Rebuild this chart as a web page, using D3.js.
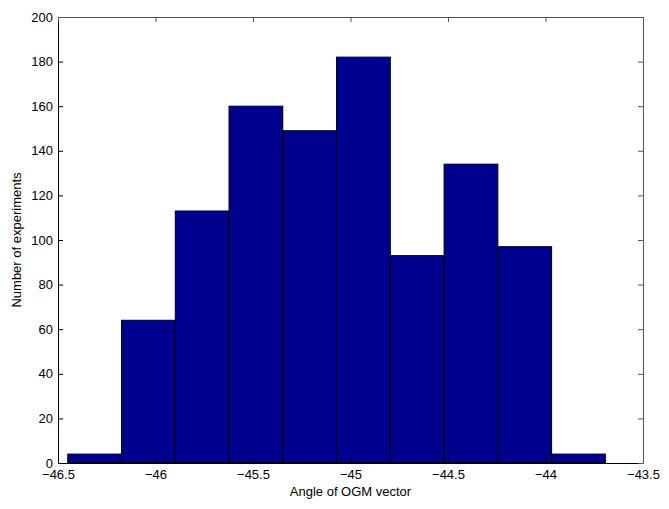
<!DOCTYPE html>
<html>
<head>
<meta charset="utf-8">
<script src="https://cdn.jsdelivr.net/npm/d3@7"></script>
<style>
  body { margin: 0; background: #fff; }
  text { font-family: "Liberation Sans", Arial, sans-serif; font-size: 13px; fill: #000; }
</style>
</head>
<body>
<svg id="chart"></svg>
<script>
// histogram bins (left edge of first bin, bin width) and counts
const binStart = -46.45;
const binWidth = 0.2757;
const counts = [4, 64, 113, 160, 149, 182, 93, 134, 97, 4];
const xTicks = [-46.5, -46, -45.5, -45, -44.5, -44, -43.5];
const yTicks = [0, 20, 40, 60, 80, 100, 120, 140, 160, 180, 200];

var margin = {top: 17, right: 26, bottom: 46, left: 58},
    width = 669 - margin.left - margin.right,
    height = 509 - margin.top - margin.bottom;

const svg = d3.select("#chart")
    .attr("width", 669)
    .attr("height", 509);

const g = svg.append("g")
    .attr("transform", "translate(" + margin.left + "," + margin.top + ")");

var x = d3.scaleLinear().domain([-46.5, -43.5]).range([0, width]);
var y = d3.scaleLinear().domain([0, 200]).range([height, 0]);

// bars
g.append("g")
    .selectAll("rect")
    .data(counts)
    .enter()
    .append("rect")
    .attr("x", (d, i) => x(binStart + i * binWidth))
    .attr("width", (d, i) => x(binStart + (i + 1) * binWidth) - x(binStart + i * binWidth))
    .attr("y", d => y(d))
    .attr("height", d => height - y(d))
    .style("fill", "#00008f")
    .style("stroke", "#000")
    .style("stroke-width", 1);

// axes, ticks pointing inward like matlab
const xAxis = g.append("g")
    .attr("transform", "translate(0," + height + ")")
    .call(d3.axisBottom(x).tickValues(xTicks).tickSizeInner(-5).tickSizeOuter(0).tickPadding(7).tickFormat(d3.format("")));
const yAxis = g.append("g")
    .call(d3.axisLeft(y).tickValues(yTicks).tickSizeInner(-5).tickSizeOuter(0).tickPadding(5));
const xTop = g.append("g")
    .call(d3.axisTop(x).tickValues(xTicks).tickSizeInner(-5).tickSizeOuter(0).tickFormat(""));
const yRight = g.append("g")
    .attr("transform", "translate(" + width + ",0)")
    .call(d3.axisRight(y).tickValues(yTicks).tickSizeInner(-5).tickSizeOuter(0).tickFormat(""));

[xAxis, yAxis].forEach(a => {
    a.select(".domain").attr("stroke", "#000");
    a.selectAll(".tick line").attr("stroke", "#000");
    a.selectAll("text").style("font-family", "'Liberation Sans', Arial, sans-serif").style("font-size", "13px").attr("fill", "#000");
});
[xTop, yRight].forEach(a => {
    a.select(".domain").attr("stroke", "#555");
    a.selectAll(".tick line").attr("stroke", "#555");
});

// labels
g.append("text")
    .attr("x", width / 2)
    .attr("y", height + 33)
    .attr("text-anchor", "middle")
    .text("Angle of OGM vector");

g.append("text")
    .attr("transform", "translate(-37," + height / 2 + ") rotate(-90)")
    .attr("text-anchor", "middle")
    .text("Number of experiments");
</script>
</body>
</html>
